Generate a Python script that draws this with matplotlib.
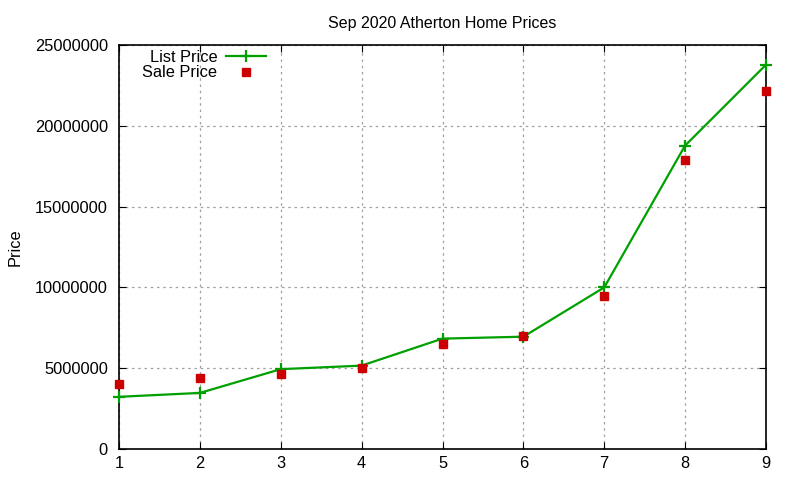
import matplotlib
matplotlib.use("Agg")
import matplotlib.pyplot as plt
from matplotlib.ticker import FuncFormatter, MultipleLocator

plt.rcParams['font.family'] = ['Liberation Sans', 'DejaVu Sans']

months = [1, 2, 3, 4, 5, 6, 7, 8, 9]
list_price = [3230000, 3470000, 4940000, 5160000, 6830000, 6950000, 10000000, 18780000, 23780000]
sale_price = [4050000, 4420000, 4630000, 5040000, 6520000, 6990000, 9480000, 17880000, 22180000]

fig = plt.figure(figsize=(8, 4.8), dpi=100)
ax = fig.add_axes([119/800, 31/480, (766-119)/800, (449-45)/480])

ax.plot(months, list_price, color='#00a000', lw=1.6, marker='+', ms=9, mew=1.6, label='List Price',
        zorder=3, clip_on=False)
ax.plot(months, sale_price, ls='none', color='#cc0000', marker='s', ms=6, label='Sale Price',
        zorder=4, clip_on=False)

ax.set_xlim(1, 9)
ax.set_ylim(0, 25000000)
ax.xaxis.set_major_locator(MultipleLocator(1))
ax.yaxis.set_major_locator(MultipleLocator(5000000))
ax.yaxis.set_major_formatter(FuncFormatter(lambda v, p: f"{int(round(v))}"))
ax.grid(True, color='#a0a0a0', ls=(0, (2, 3)), lw=0.9)
ax.tick_params(direction='in', top=True, right=True, length=5, labelsize=11.8, colors='black')
ax.tick_params(axis='y', pad=8)
ax.tick_params(axis='x', pad=5)
for s in ax.spines.values():
    s.set_linewidth(1.2)

ax.set_title('Sep 2020 Atherton Home Prices', fontsize=11.5, pad=12)
ax.set_ylabel('Price', fontsize=11.8, labelpad=9)

leg = ax.legend(loc='upper left', bbox_to_anchor=(0.026, 1.005), frameon=False, markerfirst=False,
                fontsize=11.8, handlelength=2.4, handletextpad=0.55, labelspacing=0.05, borderaxespad=0)

fig.savefig('out.png', dpi=100)
